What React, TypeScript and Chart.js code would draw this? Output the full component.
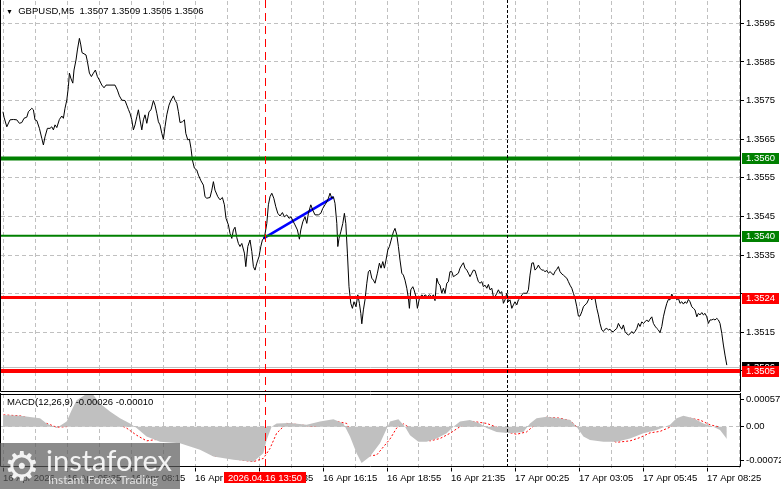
import React, { useEffect, useRef } from "react";
import { Chart, registerables } from "chart.js";

Chart.register(...registerables);

const FONT = "'Liberation Sans', Arial, sans-serif";
const GRID = "#C0C0C0";

// ---------------- data ----------------
const symbolText = "GBPUSD,M5";
const lastBarText = ["1.3507", "1.3509", "1.3505", "1.3506"];
const macdText = "MACD(12,26,9) -0.00026 -0.00010";

const timeLabels = [
  "16 Apr 2026", "16 Apr 05:35", "16 Apr 08:15", "16 Apr 10:55", "16 Apr 13:35", "16 Apr 16:15",
  "16 Apr 18:55", "16 Apr 21:35", "17 Apr 00:25", "17 Apr 03:05", "17 Apr 05:45", "17 Apr 08:25",
];
const barsPerLabel = 32;
const barsPerGrid = 16;

const priceTicks = [1.3505, 1.3515, 1.3525, 1.3535, 1.3545, 1.3555, 1.3565, 1.3575, 1.3585, 1.3595];

const priceBar = [
  0, 0.5, 1.9, 3.5, 5.2, 6.9, 8.2, 9.4, 10.5, 11.9, 12.7, 14.4, 15.2, 16, 16.9, 18.2, 19.4, 20.2, 21, 22.2,
  23.5, 24.4, 25.2, 26, 26.9, 28.2, 29.4, 30.2, 31, 31.9, 32.7, 33.2, 33.9, 34.9, 35.5, 36.5, 37.2, 38.2, 38.9, 39.5,
  40.5, 41.5, 42.2, 43.2, 44.2, 45.2, 46.2, 47.2, 48.2, 49.4, 50.5, 51.5, 53.5, 56, 57.2, 58.2, 59.4, 61, 61.9, 62.7,
  63.5, 64.4, 65.2, 66, 66.9, 67.7, 68.5, 69.4, 70.2, 71, 71.9, 73, 74, 75.2, 76, 76.9, 77.7, 78.5, 79.4, 80.2,
  81, 81.9, 83, 84, 85.2, 86, 86.9, 87.7, 88.5, 89.7, 90.7, 91.4, 92.4, 93.2, 94, 94.7, 95.7, 96.9, 97.7, 99,
  100.2, 101, 101.9, 103.5, 104.4, 105.2, 106, 107.4, 108.5, 109.7, 110.7, 111.5, 112.7, 113.5, 114.4, 115.2, 116, 116.9, 117.7, 118.5,
  119.4, 120.7, 121.4, 122.4, 123.5, 124.4, 125.2, 126, 126.9, 128, 128.9, 129.7, 130.7, 131.9, 132.7, 133.5, 134.4, 135.4, 136.4, 137.4,
  138.5, 139.7, 140.7, 141.9, 143, 144, 145.2, 146, 147.2, 148.2, 148.9, 149.9, 151, 151.9, 152.7, 153.9, 154.9, 156, 157.7, 158.9,
  159.9, 161, 161.9, 162.7, 163.5, 164.4, 165.2, 166, 166.9, 167.4, 168, 168.9, 169.9, 170.7, 171.4, 172.2, 173, 173.9, 174.7, 175.5,
  176.5, 177.4, 178.2, 178.9, 179.4, 180.2, 181, 181.9, 182.7, 183.5, 184.4, 185.2, 186, 187.2, 188.2, 189, 189.9, 190.7, 191.5, 192.4,
  193.2, 194.4, 195.2, 196, 196.9, 197.7, 198.5, 199.4, 200.2, 201, 201.9, 202.7, 203.2, 203.9, 204.9, 205.5, 206.5, 207.2, 208.2, 209.4,
  210.2, 211, 212.2, 213.2, 214.4, 215.2, 216, 216.9, 217.7, 218.5, 219.4, 220.2, 221, 221.9, 222.7, 223.5, 224.4, 225.2, 226.4, 227.7,
  228.5, 229.4, 230.2, 231, 231.9, 232.7, 233.5, 234.4, 235.2, 236, 236.9, 237.7, 238.5, 239.4, 240.2, 241, 241.9, 242.7, 243.5, 244.4,
  245.2, 246, 246.9, 247.7, 248.5, 249.4, 250.2, 251, 251.9, 252.7, 253.5, 254.4, 255.2, 256, 256.9, 257.7, 258.5, 259.4, 260.2, 261.9,
  262.7, 263.5, 264.4, 265.2, 266, 266.9, 267.7, 268.5, 269.4, 270.2, 271, 271.9, 272.7, 273.5, 274.4, 275.2, 276, 276.9, 277.7, 278.5,
  279.4, 280.2, 281, 281.9, 282.7, 283.5, 284.4, 285.2, 286, 286.9, 287.7, 288.5, 289.4, 290.2, 291, 291.9, 292.7, 293.5, 294.4, 295.2,
  296, 296.9, 297.7, 298.5, 299.4, 300.2, 301, 301.9, 302.7, 303.5, 304.4, 305.2, 306, 306.9, 307.7, 308.5, 309.4, 310.2, 311, 311.9,
  312.7, 313.5, 314.4, 315.2, 316, 316.9, 317.7, 318.5, 319.4, 320.2, 321, 321.9, 322.7, 323.5, 324.4, 325.2, 326, 326.9, 327.7, 328.5,
  329.4, 330.2, 331, 331.9, 332.7, 333.5, 334.4, 335.2, 336, 336.9, 337.7, 338.5, 339.4, 340.2, 341, 341.9, 342.7, 343.5, 344.4, 345.2,
  346, 346.9, 347.7, 348.5, 349.4, 350.2, 351, 351.9, 352.7, 353.5, 354.4, 355.2, 356, 356.9, 357.7, 358.5, 359.4, 360.2, 361, 361.9,
];

const priceClose = [
  1.35721, 1.35707, 1.35682, 1.357, 1.35701, 1.357, 1.35691, 1.35693, 1.35704, 1.35707, 1.35721, 1.3573, 1.35726, 1.357, 1.35698, 1.35678, 1.35652, 1.35635, 1.35656, 1.35678,
  1.35678, 1.35682, 1.35674, 1.35687, 1.3568, 1.35701, 1.3571, 1.35704, 1.3573, 1.35751, 1.35786, 1.35821, 1.35808, 1.35795, 1.35829, 1.35855, 1.35881, 1.35911, 1.35894, 1.35874,
  1.35871, 1.35868, 1.35851, 1.35821, 1.35812, 1.35821, 1.35829, 1.35812, 1.35803, 1.3579, 1.35783, 1.3579, 1.3579, 1.3579, 1.35777, 1.35762, 1.35751, 1.3575, 1.35738, 1.35727,
  1.35717, 1.357, 1.35674, 1.35687, 1.35708, 1.35726, 1.357, 1.35674, 1.357, 1.35713, 1.35691, 1.35721, 1.35726, 1.3575, 1.35738, 1.35717, 1.35695, 1.35687, 1.35665, 1.3565,
  1.35682, 1.35713, 1.35738, 1.35751, 1.35762, 1.35751, 1.35743, 1.35721, 1.35693, 1.35695, 1.357, 1.35665, 1.35648, 1.3565, 1.35626, 1.35596, 1.35575, 1.3557, 1.35557, 1.35542,
  1.35531, 1.35501, 1.35497, 1.35499, 1.35518, 1.3554, 1.35518, 1.35501, 1.35493, 1.35499, 1.3548, 1.35445, 1.35428, 1.35406, 1.35393, 1.35415, 1.35422, 1.35395, 1.3538, 1.35372,
  1.3538, 1.35355, 1.3532, 1.35372, 1.35389, 1.35359, 1.3532, 1.35311, 1.35329, 1.35346, 1.35372, 1.35389, 1.35395, 1.35432, 1.3548, 1.35501, 1.3551, 1.35497, 1.35475, 1.35458,
  1.35451, 1.3546, 1.35449, 1.35454, 1.35445, 1.35449, 1.35436, 1.35428, 1.35415, 1.35391, 1.35415, 1.35436, 1.35449, 1.35432, 1.35458, 1.3548, 1.35466, 1.35454, 1.35454, 1.35458,
  1.35471, 1.3548, 1.35488, 1.35497, 1.3551, 1.35497, 1.35501, 1.35484, 1.35432, 1.35372, 1.35393, 1.3541, 1.35432, 1.35458, 1.35432, 1.35355, 1.35268, 1.35225, 1.35212, 1.35229,
  1.35216, 1.35247, 1.35225, 1.35199, 1.35172, 1.35208, 1.35234, 1.35277, 1.35307, 1.35311, 1.3529, 1.35285, 1.35277, 1.35303, 1.35329, 1.35316, 1.35333, 1.35316, 1.35337, 1.35363,
  1.35372, 1.35395, 1.3541, 1.35419, 1.35402, 1.35372, 1.35337, 1.35303, 1.35298, 1.35285, 1.35264, 1.35238, 1.35212, 1.3526, 1.35268, 1.3526, 1.35242, 1.35212, 1.35238, 1.35247,
  1.35242, 1.35247, 1.35242, 1.35247, 1.35242, 1.35247, 1.35232, 1.3529, 1.35277, 1.35272, 1.35251, 1.35264, 1.35251, 1.35277, 1.35281, 1.35307, 1.35307, 1.35294, 1.35298, 1.35303,
  1.35316, 1.35324, 1.3533, 1.35316, 1.35311, 1.35303, 1.35294, 1.35303, 1.35311, 1.3531, 1.35294, 1.35281, 1.35277, 1.35281, 1.35268, 1.35272, 1.35264, 1.35274, 1.3526, 1.35264,
  1.35242, 1.35242, 1.35251, 1.3526, 1.35251, 1.35255, 1.35225, 1.35234, 1.35251, 1.35229, 1.35234, 1.35212, 1.35221, 1.35229, 1.35221, 1.35234, 1.35238, 1.35247, 1.35251, 1.35251,
  1.3526, 1.35298, 1.35329, 1.3533, 1.35311, 1.35316, 1.35324, 1.35316, 1.35311, 1.35311, 1.35307, 1.3531, 1.35303, 1.35307, 1.35303, 1.35298, 1.35307, 1.35313, 1.3532, 1.35307,
  1.35301, 1.35298, 1.35294, 1.3529, 1.35281, 1.35272, 1.35264, 1.35251, 1.35238, 1.35216, 1.35192, 1.35192, 1.35203, 1.35216, 1.35221, 1.35225, 1.35234, 1.35242, 1.35234, 1.35244,
  1.35238, 1.35212, 1.35195, 1.35173, 1.35156, 1.35152, 1.35158, 1.3516, 1.35156, 1.35158, 1.35152, 1.35152, 1.35156, 1.3516, 1.35173, 1.35165, 1.35158, 1.35169, 1.35152, 1.35146,
  1.35143, 1.35146, 1.35152, 1.35147, 1.35152, 1.3516, 1.35173, 1.35165, 1.35177, 1.35173, 1.35177, 1.35182, 1.35177, 1.35184, 1.3519, 1.35173, 1.35166, 1.3516, 1.35156, 1.35149,
  1.35165, 1.3519, 1.35208, 1.35225, 1.35235, 1.35234, 1.35249, 1.35238, 1.35242, 1.35234, 1.35238, 1.35225, 1.35229, 1.35223, 1.35229, 1.35225, 1.35235, 1.35229, 1.35216, 1.35212,
  1.35208, 1.3519, 1.35199, 1.35195, 1.35201, 1.35195, 1.35199, 1.3519, 1.35173, 1.35182, 1.35182, 1.35184, 1.35182, 1.35186, 1.35182, 1.35173, 1.35147, 1.35117, 1.35091, 1.35065,
];

const levelValues = [1.356, 1.354, 1.3524, 1.3505];
const levelColors = ["#008000", "#008000", "#FF0000", "#FF0000"];
const levelWidths = [4, 2, 3, 4];

const bidPrice = 1.3506;
const trendBar = [130.2, 165.2];
const trendPrice = [1.35393, 1.355];
const markerBar = 131;
const markerText = "2026.04.16 13:50";
const sessionBar = 252;

const histBar = [
  0, 8.5, 18.5, 21.8, 26.8, 31.8, 34.3, 36.8, 41.8, 45.2, 48.5, 53.5, 58.5, 63.5, 66.8, 71.8, 78.5, 88.5, 98.5, 105.2,
  115.2, 125.2, 130.2, 131.8, 134.3, 136.8, 143.5, 151.8, 158.5, 165.2, 170.2, 173.5, 176.8, 179.3, 183.5, 188.5, 193.5, 197.7, 201, 203.5,
  207.7, 211.8, 216.8, 221.8, 225.2, 228.5, 233.5, 238.5, 241.8, 246.8, 253.5, 260.2, 263.5, 266.8, 271.8, 278.5, 283.5, 286.8, 290.2, 293.5,
  300.2, 306.8, 313.5, 320.2, 326.8, 333.5, 336.8, 340.2, 345.2, 350.2, 355.2, 358.5, 361, 361.9,
];
const histValue = [
  0.00025, 0.00023, 0.00018, 0.00007, -0.00003, 0.00011, 0.00035, 0.00056, 0.00069, 0.00067, 0.00049, 0.00032, 0.00018, 0.00007, -0.00003, -0.00021, -0.00032, -0.00035, -0.00049, -0.00063,
  -0.0007, -0.00074, -0.00056, -0.00028, 0, 0.00007, 0.00008, 0.00004, 0.00011, 0.00016, 0.00007, -0.00021, -0.00056, -0.00077, -0.00063, -0.00035, 0.00011, 0.00016, 0, -0.00018,
  -0.00032, -0.00032, -0.00025, -0.00014, 0, 0.00011, 0.00014, 0.00007, -0.00003, -0.00011, -0.00014, -0.00011, 0.00007, 0.00018, 0.00021, 0.00018, 0.00014, 0, -0.00021, -0.00028,
  -0.00032, -0.00032, -0.00025, -0.00014, -0.00007, 0.00004, 0.00018, 0.00023, 0.00018, 0.00007, 0, -0.00007, -0.00021, -0.00026,
];

const signalBar = [
  0.2, 8.5, 15.2, 21.8, 26.8, 31.8, 36.8, 41.8, 46.8, 51.8, 56.8, 61.8, 66.8, 71.8, 76.8, 81.8, 86.8, 90.2, 93.5, 98.5,
  105.2, 111.8, 118.5, 125.2, 130.2, 133.5, 136.8, 141.8, 148.5, 155.2, 161.8, 166.8, 171.8, 175.2, 180.2, 186.8, 193.5, 196.8, 200.2, 205.2,
  210.2, 213.5, 218.5, 223.5, 228.5, 235.2, 241.8, 246.8, 251.8, 256.8, 261.8, 266.8, 271.8, 278.5, 283.5, 286.8, 291.8, 296.8, 301.8, 306.8,
  313.5, 318.5, 323.5, 328.5, 333.5, 338.5, 343.5, 348.5, 353.5, 358.5, 360.2, 361.9,
];
const signalValue = [
  0.00025, 0.00023, 0.00016, 0.00007, -0.00001, 0, 0.00028, 0.00049, 0.00046, 0.00028, 0.00007, -0.00003, -0.00018, -0.0003, -0.00027, -0.00021, -0.00011, -0.00007, -0.00014, -0.00039,
  -0.00062, -0.00063, -0.0007, -0.00074, -0.00067, -0.00046, -0.00014, 0.00007, 0.00004, 0, 0.00007, 0.00011, 0.00007, -0.00021, -0.00063, -0.0006, -0.00026, -0.00003, 0.00006, -0.00007,
  -0.00025, -0.0003, -0.00025, -0.00014, 0, 0.00011, 0.00007, -0.00001, -0.00011, -0.00016, -0.00011, 0.00007, 0.0002, 0.00018, 0.00013, 0, -0.00018, -0.00023, -0.00025, -0.00033,
  -0.0003, -0.00023, -0.00013, -0.0001, -0.00001, 0.00011, 0.00018, 0.00014, 0.00004, -0.00001, -0.00007, -0.0001,
];

const macdTicks = [0.00057, 0, -0.00072];

// axis ranges
const X_MIN = -1;
const X_MAX = 368.5;
const P_MIN = 1.349954;
const P_MAX = 1.360077;
const M_MIN = -0.000863;
const M_MAX = 0.0006915;

const gridBars: number[] = [];
for (let b = 0; b <= X_MAX; b += barsPerGrid) gridBars.push(b);

// price tick labels hidden behind a level / bid label box
const boxedPrices = [...levelValues, bidPrice];
function tickHidden(v: number) {
  return boxedPrices.some((p) => Math.abs(p - v) < 0.00018);
}

// ---------------- helpers ----------------
function vLine(ctx: CanvasRenderingContext2D, x: number, top: number, bottom: number, color: string, dash: number[]) {
  ctx.save();
  ctx.strokeStyle = color;
  ctx.lineWidth = 1;
  ctx.setLineDash(dash);
  const px = Math.round(x) + 0.5;
  ctx.beginPath();
  ctx.moveTo(px, top);
  ctx.lineTo(px, bottom);
  ctx.stroke();
  ctx.restore();
}

function frame(ctx: CanvasRenderingContext2D, a: any, withTop: boolean) {
  const l = a.left - 0.5;
  const r = a.right + 0.5;
  const t = a.top + 0.5;
  const b = Math.floor(a.bottom) - 0.5;
  ctx.save();
  ctx.strokeStyle = "#000";
  ctx.lineWidth = 1;
  ctx.beginPath();
  if (withTop) {
    ctx.moveTo(l, t);
    ctx.lineTo(r, t);
  }
  ctx.moveTo(l, 0);
  ctx.lineTo(l, b);
  ctx.lineTo(r, b);
  ctx.lineTo(r, 0);
  ctx.stroke();
  ctx.restore();
}

function axisBox(ctx: CanvasRenderingContext2D, a: any, y: number, bg: string, text: string) {
  ctx.save();
  ctx.fillStyle = bg;
  ctx.fillRect(a.right + 2, Math.round(y) - 5, 37, 11);
  ctx.fillStyle = "#fff";
  ctx.font = `9.5px ${FONT}`;
  ctx.textBaseline = "middle";
  ctx.textAlign = "left";
  ctx.fillText(text, a.right + 6, Math.round(y) + 0.5);
  ctx.restore();
}

const mainOverlay = {
  id: "mainOverlay",
  beforeDatasetsDraw(chart: any) {
    const { ctx, chartArea: a, scales } = chart;
    const yb = Math.round(scales.y.getPixelForValue(bidPrice)) + 0.5;
    ctx.save();
    ctx.strokeStyle = "#C0C0C0";
    ctx.lineWidth = 1;
    ctx.beginPath();
    ctx.moveTo(a.left, yb);
    ctx.lineTo(a.right, yb);
    ctx.stroke();
    ctx.restore();
  },
  afterDatasetsDraw(chart: any) {
    const { ctx, chartArea: a, scales } = chart;
    levelValues.forEach((v, i) => {
      const y = scales.y.getPixelForValue(v);
      ctx.save();
      ctx.strokeStyle = levelColors[i];
      ctx.lineWidth = levelWidths[i];
      ctx.beginPath();
      ctx.moveTo(a.left, y);
      ctx.lineTo(a.right, y);
      ctx.stroke();
      ctx.restore();
    });
    vLine(ctx, scales.x.getPixelForValue(markerBar), 0, a.bottom, "#FF0000", [8, 5]);
    vLine(ctx, scales.x.getPixelForValue(sessionBar), 0, a.bottom, "#000", [3, 2]);
  },
  afterDraw(chart: any) {
    const { ctx, chartArea: a, scales } = chart;
    frame(ctx, a, false);
    axisBox(ctx, a, scales.y.getPixelForValue(bidPrice), "#000", bidPrice.toFixed(4));
    levelValues.forEach((v, i) => {
      axisBox(ctx, a, scales.y.getPixelForValue(v), levelColors[i], v.toFixed(4));
    });
  },
};

const macdOverlay = {
  id: "macdOverlay",
  afterDatasetsDraw(chart: any) {
    const { ctx, chartArea: a, scales } = chart;
    vLine(ctx, scales.x.getPixelForValue(markerBar), a.top, a.bottom, "#FF0000", [8, 5]);
    vLine(ctx, scales.x.getPixelForValue(sessionBar), a.top, a.bottom, "#000", [3, 2]);
  },
  afterDraw(chart: any) {
    const { ctx, chartArea: a, scales } = chart;
    frame(ctx, a, true);
    const x = scales.x.getPixelForValue(markerBar);
    ctx.save();
    ctx.font = `9.5px ${FONT}`;
    const w = Math.ceil(ctx.measureText(markerText).width) + 8;
    ctx.fillStyle = "#FF0000";
    ctx.fillRect(Math.round(x - w / 2), Math.floor(a.bottom) + 5, w, 11);
    ctx.fillStyle = "#fff";
    ctx.textAlign = "center";
    ctx.textBaseline = "middle";
    ctx.fillText(markerText, Math.round(x), Math.floor(a.bottom) + 11);
    ctx.restore();
  },
};

function mainConfig(): any {
  return {
    type: "line",
    data: {
      datasets: [
        {
          data: priceBar.map((b, i) => ({ x: b, y: priceClose[i] })),
          borderColor: "#000",
          borderWidth: 1,
          pointRadius: 0,
          tension: 0,
        },
        {
          data: trendBar.map((b, i) => ({ x: b, y: trendPrice[i] })),
          borderColor: "#0000FF",
          borderWidth: 2.5,
          pointRadius: 0,
          tension: 0,
        },
      ],
    },
    options: {
      responsive: false,
      animation: false,
      devicePixelRatio: 1,
      events: [],
      layout: { padding: { top: 1, left: 1, right: 0, bottom: 1 } },
      plugins: { legend: { display: false }, tooltip: { enabled: false } },
      scales: {
        x: {
          type: "linear",
          min: X_MIN,
          max: X_MAX,
          bounds: "data",
          afterBuildTicks: (s: any) => {
            s.ticks = gridBars.map((v) => ({ value: v }));
          },
          afterFit: (s: any) => {
            s.height = 0;
            s.paddingLeft = 0;
            s.paddingRight = 0;
          },
          ticks: { display: false, autoSkip: false },
          grid: { color: GRID, drawTicks: false, lineWidth: 1 },
          border: { display: false, dash: [4, 3] },
        },
        y: {
          type: "linear",
          position: "right",
          min: P_MIN,
          max: P_MAX,
          bounds: "data",
          afterBuildTicks: (s: any) => {
            s.ticks = priceTicks.map((v) => ({ value: v }));
          },
          afterFit: (s: any) => {
            s.width = 41;
            s.paddingTop = 0;
            s.paddingBottom = 0;
          },
          ticks: {
            autoSkip: false,
            callback: (v: any) => Number(v).toFixed(4),
            font: { family: FONT, size: 9.5 },
            color: (c: any) => (c.tick && tickHidden(c.tick.value) ? "rgba(0,0,0,0)" : "#000"),
            padding: 2,
          },
          grid: { color: GRID, tickColor: "#000", tickLength: 4, drawTicks: true, lineWidth: 1 },
          border: { display: false, dash: [4, 3] },
        },
      },
    },
    plugins: [mainOverlay],
  };
}

function macdConfig(): any {
  return {
    type: "line",
    data: {
      datasets: [
        {
          data: histBar.map((b, i) => ({ x: b, y: histValue[i] })),
          borderWidth: 0,
          borderColor: "rgba(0,0,0,0)",
          backgroundColor: "#C0C0C0",
          fill: "origin",
          pointRadius: 0,
          tension: 0,
        },
        {
          data: signalBar.map((b, i) => ({ x: b, y: signalValue[i] })),
          borderColor: "#FF0000",
          borderWidth: 1,
          borderDash: [2, 2],
          pointRadius: 0,
          tension: 0,
          fill: false,
        },
      ],
    },
    options: {
      responsive: false,
      animation: false,
      devicePixelRatio: 1,
      events: [],
      layout: { padding: { top: 1, left: 1, right: 0, bottom: 0 } },
      plugins: { legend: { display: false }, tooltip: { enabled: false } },
      scales: {
        x: {
          type: "linear",
          min: X_MIN,
          max: X_MAX,
          bounds: "data",
          afterBuildTicks: (s: any) => {
            s.ticks = gridBars.map((v) => ({ value: v }));
          },
          afterFit: (s: any) => {
            s.height = 21.5;
            s.paddingLeft = 0;
            s.paddingRight = 0;
          },
          ticks: {
            autoSkip: false,
            maxRotation: 0,
            minRotation: 0,
            align: "start",
            padding: 1,
            color: "#000",
            font: { family: FONT, size: 9.5 },
            callback: (v: any) => {
              const n = Number(v);
              return n % barsPerLabel === 0 ? timeLabels[n / barsPerLabel] ?? "" : "";
            },
          },
          grid: {
            color: GRID,
            lineWidth: 1,
            drawTicks: true,
            tickLength: 4,
            tickColor: (c: any) => (c.tick && c.tick.value % barsPerLabel === 0 ? "#000" : "rgba(0,0,0,0)"),
          },
          border: { display: false, dash: [4, 3] },
        },
        y: {
          type: "linear",
          position: "right",
          min: M_MIN,
          max: M_MAX,
          bounds: "data",
          afterBuildTicks: (s: any) => {
            s.ticks = macdTicks.map((v) => ({ value: v }));
          },
          afterFit: (s: any) => {
            s.width = 41;
            s.paddingTop = 0;
            s.paddingBottom = 0;
          },
          ticks: {
            autoSkip: false,
            callback: (v: any) => (Number(v) === 0 ? "0.00" : Number(v).toFixed(5)),
            font: { family: FONT, size: 9.5 },
            color: "#000",
            padding: 2,
          },
          grid: {
            color: (c: any) => (c.tick && c.tick.value === 0 ? GRID : "rgba(0,0,0,0)"),
            tickColor: "#000",
            tickLength: 4,
            drawTicks: true,
            lineWidth: 1,
          },
          border: { display: false, dash: [4, 3] },
        },
      },
    },
    plugins: [macdOverlay],
  };
}

const textStyle: React.CSSProperties = {
  position: "absolute",
  fontFamily: FONT,
  fontSize: "9.5px",
  color: "#000",
  whiteSpace: "pre",
  lineHeight: "14px",
};

function Logo() {
  return (
    <div
      style={{
        position: "absolute",
        left: 0,
        top: 443,
        width: 180,
        height: 46,
        background: "rgba(90,90,90,0.7)",
      }}
    >
      <span
        style={{
          position: "absolute",
          left: 4,
          top: 0,
          fontFamily: "'DejaVu Sans', sans-serif",
          fontSize: "40px",
          lineHeight: "46px",
          color: "rgba(255,255,255,0.9)",
        }}
      >
        ⚙
      </span>
      <span
        style={{
          position: "absolute",
          left: 46,
          top: 2,
          fontFamily: "Lato, 'Open Sans', sans-serif",
          fontSize: "29px",
          lineHeight: "30px",
          color: "rgba(255,255,255,0.9)",
        }}
      >
        instaforex
      </span>
      <span
        style={{
          position: "absolute",
          left: 48,
          top: 30,
          fontFamily: "Lato, 'Open Sans', sans-serif",
          fontSize: "12px",
          lineHeight: "14px",
          color: "rgba(255,255,255,0.75)",
        }}
      >
        Instant Forex Trading
      </span>
    </div>
  );
}

export default function App() {
  const mainRef = useRef<HTMLCanvasElement>(null);
  const macdRef = useRef<HTMLCanvasElement>(null);

  useEffect(() => {
    const c1 = new Chart(mainRef.current as HTMLCanvasElement, mainConfig());
    const c2 = new Chart(macdRef.current as HTMLCanvasElement, macdConfig());
    return () => {
      c1.destroy();
      c2.destroy();
    };
  }, []);

  return (
    <div style={{ position: "fixed", left: 0, top: 0, width: 781, height: 489, background: "#fff", overflow: "hidden" }}>
      <canvas ref={mainRef} width={781} height={393} style={{ position: "absolute", left: 0, top: 0 }} />
      <canvas ref={macdRef} width={781} height={96} style={{ position: "absolute", left: 0, top: 393 }} />
      <div style={{ ...textStyle, left: 6, top: 4 }}>
        <span style={{ fontSize: "7px" }}>▼</span>
        {"  " + symbolText + "  " + lastBarText.join(" ")}
      </div>
      <div style={{ ...textStyle, left: 7, top: 395 }}>{macdText}</div>
      <Logo />
    </div>
  );
}
